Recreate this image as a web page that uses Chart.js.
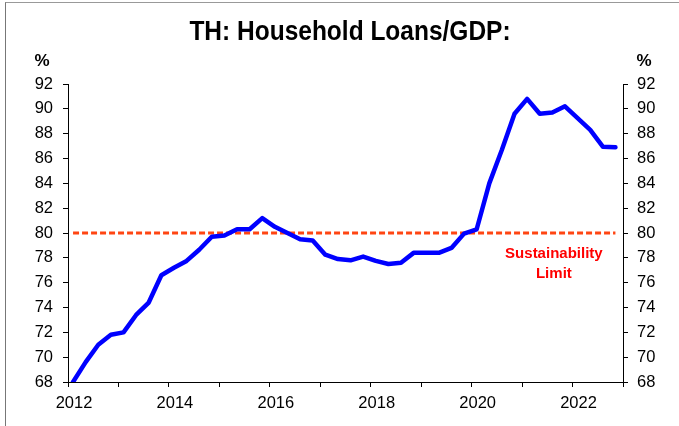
<!DOCTYPE html>
<html>
<head>
<meta charset="utf-8">
<script src="https://cdn.jsdelivr.net/npm/chart.js@4/dist/chart.umd.min.js"></script>
<style>
  html, body { margin: 0; padding: 0; background: #fff; }
  #wrap { position: relative; width: 679px; height: 426px; }
  #frame { position: absolute; left: 5px; top: 2px; width: 700px; height: 500px; border-left: 1px solid #777; border-top: 1px solid #999; pointer-events: none; }
  canvas { position: absolute; left: 0; top: 0; }
</style>
</head>
<body>
<div id="wrap">
  <canvas id="c" width="679" height="426"></canvas>
  <div id="frame"></div>
</div>
<script>
// Quarterly observations, 2012Q1 .. 2022Q4
const quarters = [
  "2012Q1","2012Q2","2012Q3","2012Q4",
  "2013Q1","2013Q2","2013Q3","2013Q4",
  "2014Q1","2014Q2","2014Q3","2014Q4",
  "2015Q1","2015Q2","2015Q3","2015Q4",
  "2016Q1","2016Q2","2016Q3","2016Q4",
  "2017Q1","2017Q2","2017Q3","2017Q4",
  "2018Q1","2018Q2","2018Q3","2018Q4",
  "2019Q1","2019Q2","2019Q3","2019Q4",
  "2020Q1","2020Q2","2020Q3","2020Q4",
  "2021Q1","2021Q2","2021Q3","2021Q4",
  "2022Q1","2022Q2","2022Q3","2022Q4"
];
const loansToGdp = [
  68.0, 69.6, 71.0, 71.8,
  72.0, 73.4, 74.4, 76.6,
  77.2, 77.75, 78.65, 79.7,
  79.8, 80.3, 80.3, 81.2,
  80.5, 80.0, 79.5, 79.4,
  78.25, 77.9, 77.8, 78.1,
  77.75, 77.5, 77.6, 78.4,
  78.4, 78.4, 78.8, 79.95,
  80.3, 84.0, 86.7, 89.6,
  90.8, 89.6, 89.7, 90.2,
  89.25, 88.3, 86.95, 86.9
];
const sustainabilityLimit = 80;
const yTicks = [68,70,72,74,76,78,80,82,84,86,88,90,92];
const xYears = [2012,2013,2014,2015,2016,2017,2018,2019,2020,2021,2022,2023];
const xLabelYears = [2012,2014,2016,2018,2020,2022];
const titleText = "TH: Household Loans/GDP:";
const unitText = "%";
const limitLabel = ["Sustainability", "Limit"];

function quarterToX(q) {
  const y = parseInt(q.slice(0,4), 10);
  const n = parseInt(q.slice(5), 10);
  return y + 0.1 + (n - 1) * 0.25;
}

const seriesPts = quarters.map((q, i) => ({ x: quarterToX(q), y: loansToGdp[i] }));
const limitPts = [
  { x: quarterToX(quarters[0]), y: sustainabilityLimit },
  { x: quarterToX(quarters[quarters.length - 1]), y: sustainabilityLimit }
];

const FONT = "'Liberation Sans', Arial, sans-serif";

const overlay = {
  id: 'overlay',
  afterDraw(chart) {
    const ctx = chart.ctx;
    const xs = chart.scales.x, yl = chart.scales.y;
    ctx.save();
    ctx.fillStyle = '#000';
    ctx.textAlign = 'center';
    ctx.textBaseline = 'middle';
    // condensed title
    ctx.save();
    ctx.translate(350, 32);
    ctx.scale(0.875, 1);
    ctx.font = "bold 28px " + FONT;
    ctx.fillText(titleText, 0, 0);
    ctx.restore();
    ctx.font = "bold 17px " + FONT;
    ctx.fillText(unitText, 42, 61);
    ctx.fillText(unitText, 644, 61);
    ctx.fillStyle = '#ff0000';
    ctx.font = "bold 15px " + FONT;
    const cx = xs.getPixelForValue(2021.63);
    ctx.fillText(limitLabel[0], cx, yl.getPixelForValue(78.35));
    ctx.fillText(limitLabel[1], cx, yl.getPixelForValue(76.7));
    ctx.restore();
  }
};

const yAxisCommon = {
  type: 'linear',
  min: 68, max: 92,
  afterBuildTicks(s) { s.ticks = yTicks.map(v => ({ value: v })); },
  ticks: { color: '#000', font: { family: FONT, size: 16.5 }, padding: 10 },
  grid: { drawOnChartArea: false, drawTicks: true, tickLength: 5, color: '#000', tickColor: '#000' },
  border: { display: true, color: '#000', width: 1 }
};

new Chart(document.getElementById('c'), {
  type: 'line',
  data: {
    datasets: [
      {
        data: seriesPts,
        borderColor: '#0000ff',
        borderWidth: 4.5,
        pointRadius: 0,
        tension: 0,
        borderJoinStyle: 'round',
        borderCapStyle: 'round',
        yAxisID: 'y',
        order: 1
      },
      {
        data: limitPts,
        borderColor: '#ff4512',
        borderWidth: 3,
        borderDash: [6, 3],
        pointRadius: 0,
        yAxisID: 'y',
        order: 2
      }
    ]
  },
  options: {
    responsive: false,
    animation: false,
    devicePixelRatio: 1,
    layout: { padding: { top: 84, left: 0, right: 0, bottom: 0 } },
    plugins: { legend: { display: false }, tooltip: { enabled: false }, title: { display: false } },
    scales: {
      x: {
        type: 'linear',
        min: 2012, max: 2023,
        afterBuildTicks(s) { s.ticks = xYears.map(v => ({ value: v })); },
        afterFit(s) { s.height = 44; },
        ticks: {
          color: '#000', font: { family: FONT, size: 16.5 }, padding: 7, maxRotation: 0, autoSkip: false,
          labelOffset: 6,
          callback: v => xLabelYears.includes(v) ? String(v) : ''
        },
        grid: { drawOnChartArea: false, drawTicks: true, tickLength: 5, color: '#000', tickColor: '#000' },
        border: { display: true, color: '#000', width: 1 }
      },
      y: Object.assign({}, yAxisCommon, { position: 'left', afterFit(s) { s.width = 68; } }),
      y2: Object.assign({}, yAxisCommon, { position: 'right', ticks: Object.assign({}, yAxisCommon.ticks, { padding: 9 }), afterFit(s) { s.width = 56; } })
    }
  },
  plugins: [overlay]
});
</script>
</body>
</html>
